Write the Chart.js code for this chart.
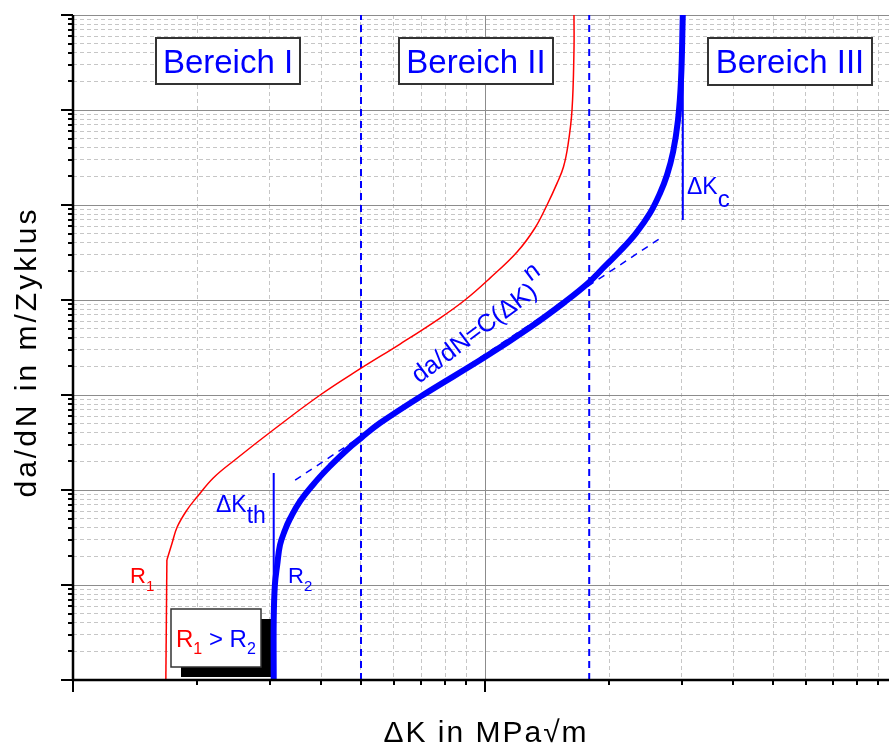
<!DOCTYPE html>
<html>
<head>
<meta charset="utf-8">
<script src="https://cdn.jsdelivr.net/npm/chart.js@4.4.1/dist/chart.umd.min.js"></script>
<style>
  html, body { margin: 0; padding: 0; background: #fff; }
  #wrap { width: 889px; height: 744px; }
</style>
</head>
<body>
<div id="wrap"><canvas id="crack" width="889" height="744"></canvas></div>
<script>
// ΔK in MPa√m (x), da/dN in m/Zyklus (y), beide logarithmisch
const X_MIN = 1, X_MAX = 95.6;
const Y_MIN = 1e-10, Y_MAX = 1e-3;

// Kurve R2 (dick, blau)
const r2K    = [3.07, 3.07, 3.09, 3.13, 3.18, 3.27, 3.36, 3.56, 3.91, 4.21, 4.62, 5.0, 5.56, 7.07, 10, 12.9, 15.5, 17.8, 19.56, 21.27, 23.26, 25.15, 26.6, 27.65, 28.6, 29.4, 29.9, 30.2];
const r2Rate = [1e-10, 4.3e-10, 1e-9, 1.62e-9, 2.64e-9, 3.79e-9, 4.95e-9, 7.66e-9, 1.27e-8, 1.79e-8, 2.64e-8, 3.52e-8, 5.07e-8, 1e-7, 2.51e-7, 5.2e-7, 9.3e-7, 1.51e-6, 2.28e-6, 3.28e-6, 5.07e-6, 8.24e-6, 1.34e-5, 2.07e-5, 3.61e-5, 7.85e-5, 2.07e-4, 1e-3];

// Kurve R1 (dünn, rot): senkrechter Fuß, dann gekrümmter Verlauf
const r1FootK    = [1.68, 1.69];
const r1FootRate = [1e-10, 1.83e-9];
const r1K    = [1.69, 1.74, 1.79, 1.89, 2.0, 2.19, 2.47, 3.06, 3.98, 4.97, 6.22, 7.78, 8.94, 10.28, 11.96, 13.22, 14.14, 14.96, 15.5, 15.9, 16.26, 16.44, 16.44];
const r1Rate = [1.83e-9, 2.77e-9, 4.08e-9, 6.15e-9, 8.43e-9, 1.34e-8, 2.07e-8, 4.28e-8, 1e-7, 1.88e-7, 3.44e-7, 6.46e-7, 1e-6, 1.7e-6, 3.2e-6, 5.73e-6, 1e-5, 1.7e-5, 2.51e-5, 4.28e-5, 1e-4, 4.28e-4, 1e-3];

// Paris-Gerade da/dN = C(ΔK)^n
const parisK    = [3.46, 26.9];
const parisRate = [1.27e-8, 4.6e-6];

// Bereichsgrenzen und Schwellwerte
const regionBounds = [5.0, 17.9];
const dKth = 3.07, dKthSpan = [1e-10, 1.51e-8];
const dKc  = 30.2, dKcSpan  = [2e-4, 6.95e-6];

const regionLabels = ['Bereich I', 'Bereich II', 'Bereich III'];

const FONT = "'Liberation Sans', Arial, sans-serif";
const BLUE = '#0000ff', RED = '#ff0000';

const pts = (xs, ys) => xs.map((v, i) => ({ x: v, y: ys[i] }));
const vline = (k, span) => span.map(r => ({ x: k, y: r }));

function logTicks(min, max) {
  const out = [];
  for (let e = Math.floor(Math.log10(min)); e <= Math.ceil(Math.log10(max)); e++) {
    for (let m = 1; m <= 9; m++) {
      const v = m * Math.pow(10, e);
      if (v >= min * 0.999 && v <= max * 1.001) out.push({ value: v, major: m === 1 });
    }
  }
  return out;
}

const gridColor = c => (c.tick && c.tick.major) ? '#8c8c8c' : '#c6c6c6';
const gridDash  = c => (c.tick && !c.tick.major) ? [4, 3] : [];

// Achsenlinien + Teilstriche nach außen
const axisFrame = {
  id: 'axisFrame',
  afterDatasetsDraw(chart) {
    const { ctx, chartArea: a, scales: { x, y } } = chart;
    ctx.save();
    ctx.strokeStyle = '#000';
    ctx.lineWidth = 2;
    ctx.beginPath();
    x.ticks.forEach(t => {
      const px = Math.round(x.getPixelForValue(t.value));
      ctx.moveTo(px, a.bottom);
      ctx.lineTo(px, a.bottom + (t.major ? 12 : 5));
    });
    y.ticks.forEach(t => {
      const py = Math.round(y.getPixelForValue(t.value));
      ctx.moveTo(a.left, py);
      ctx.lineTo(a.left - (t.major ? 12 : 5), py);
    });
    ctx.stroke();
    ctx.lineWidth = 2.5;
    ctx.beginPath();
    ctx.moveTo(a.left, a.top);
    ctx.lineTo(a.left, a.bottom);
    ctx.lineTo(a.right, a.bottom);
    ctx.stroke();
    ctx.restore();
  }
};

// Text mit Indizes: [text, farbe, größe, versatz]
function rich(ctx, parts, x, y) {
  parts.forEach(([t, col, size, dy]) => {
    ctx.font = size + 'px ' + FONT;
    ctx.fillStyle = col;
    ctx.fillText(t, x, y + (dy || 0));
    x += ctx.measureText(t).width;
  });
  return x;
}

function box(ctx, x0, y0, x1, y1, lw) {
  ctx.fillStyle = '#fff';
  ctx.fillRect(x0, y0, x1 - x0, y1 - y0);
  ctx.strokeStyle = '#333';
  ctx.lineWidth = lw;
  ctx.strokeRect(x0, y0, x1 - x0, y1 - y0);
}

const labels = {
  id: 'labels',
  beforeDatasetsDraw(chart) {
    const { ctx } = chart;
    ctx.save();
    // Bereich-Kästen
    const boxes = [[156, 38, 300, 84], [399, 38, 553, 84], [708, 38, 872, 85]];
    ctx.textBaseline = 'alphabetic';
    boxes.forEach((b, i) => {
      box(ctx, b[0], b[1], b[2], b[3], 2);
      ctx.font = '33px ' + FONT;
      ctx.fillStyle = BLUE;
      ctx.textAlign = 'center';
      ctx.fillText(regionLabels[i], (b[0] + b[2]) / 2, 73);
    });
    ctx.textAlign = 'left';
    // R1 > R2 mit Schatten
    ctx.fillStyle = '#000';
    ctx.fillRect(181, 619, 90, 58);
    box(ctx, 171, 609, 261, 667, 1.5);
    rich(ctx, [['R', RED, 24], ['1', RED, 16, 7], [' > ', BLUE, 24], ['R', BLUE, 24], ['2', BLUE, 16, 7]], 176, 647);
    ctx.restore();
  },
  afterDraw(chart) {
    const { ctx } = chart;
    ctx.save();
    ctx.textBaseline = 'alphabetic';
    rich(ctx, [['R', RED, 22], ['1', RED, 15, 8]], 130, 583);
    rich(ctx, [['R', BLUE, 22], ['2', BLUE, 15, 8]], 288, 583);
    rich(ctx, [['ΔK', BLUE, 23], ['th', BLUE, 23, 11]], 216, 512);
    rich(ctx, [['ΔK', BLUE, 23], ['c', BLUE, 24, 13]], 687, 194);

    // Paris-Gleichung entlang der Kurve
    ctx.save();
    ctx.translate(419, 384);
    ctx.rotate(-36.8 * Math.PI / 180);
    const end = rich(ctx, [['da/dN=C(ΔK)', BLUE, 25]], 0, 0);
    rich(ctx, [['n', BLUE, 25]], end + 1, -15);
    ctx.restore();

    // Achsentitel
    ctx.fillStyle = '#000';
    ctx.font = '30px ' + FONT;
    ctx.textAlign = 'center';
    ctx.letterSpacing = '2px';
    ctx.fillText('ΔK in MPa√m', 486, 742);
    ctx.save();
    ctx.translate(36, 352);
    ctx.rotate(-Math.PI / 2);
    ctx.letterSpacing = '3px';
    ctx.fillText('da/dN in m/Zyklus', 0, 0);
    ctx.restore();
    ctx.restore();
  }
};

new Chart(document.getElementById('crack'), {
  type: 'scatter',
  data: {
    datasets: [
      { data: pts(r2K, r2Rate), borderColor: BLUE, borderWidth: 6, tension: 0.4, borderJoinStyle: 'round' },
      { data: pts(r1K, r1Rate), borderColor: RED, borderWidth: 1.5, tension: 0.4 },
      { data: pts(r1FootK, r1FootRate), borderColor: RED, borderWidth: 1.5 },
      { data: pts(parisK, parisRate), borderColor: BLUE, borderWidth: 1.5, borderDash: [7, 6] },
      { data: vline(regionBounds[0], [Y_MIN, Y_MAX]), borderColor: BLUE, borderWidth: 2, borderDash: [7, 5] },
      { data: vline(regionBounds[1], [Y_MIN, Y_MAX]), borderColor: BLUE, borderWidth: 2, borderDash: [7, 5] },
      { data: vline(dKth, dKthSpan), borderColor: BLUE, borderWidth: 2 },
      { data: vline(dKc, dKcSpan), borderColor: BLUE, borderWidth: 2 },
    ].map(d => Object.assign({ showLine: true, pointRadius: 0, fill: false }, d)),
  },
  options: {
    responsive: false,
    animation: false,
    devicePixelRatio: 1,
    layout: { padding: { left: 73, top: 15, right: 0, bottom: 64 } },
    plugins: { legend: { display: false }, tooltip: { enabled: false } },
    scales: {
      x: {
        type: 'logarithmic', min: X_MIN, max: X_MAX,
        afterBuildTicks: s => { s.ticks = logTicks(X_MIN, X_MAX); },
        ticks: { display: false },
        grid: { drawTicks: false, color: gridColor, lineWidth: 1 },
        border: { display: false, dash: gridDash },
      },
      y: {
        type: 'logarithmic', min: Y_MIN, max: Y_MAX,
        afterBuildTicks: s => { s.ticks = logTicks(Y_MIN, Y_MAX); },
        ticks: { display: false },
        grid: { drawTicks: false, color: gridColor, lineWidth: 1 },
        border: { display: false, dash: gridDash },
      },
    },
  },
  plugins: [labels, axisFrame],
});
</script>
</body>
</html>
